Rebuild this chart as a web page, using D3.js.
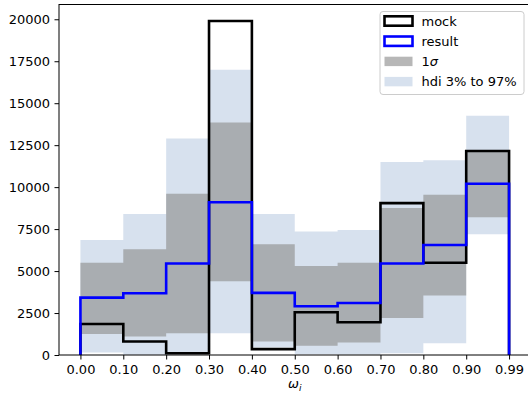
<!DOCTYPE html>
<html>
<head>
<meta charset="utf-8">
<script src="https://cdn.jsdelivr.net/npm/d3@7/dist/d3.min.js"></script>
<style>
  html, body { margin: 0; padding: 0; background: #fff; }
  svg { display: block; font-family: "DejaVu Sans", sans-serif; }
</style>
</head>
<body>
<svg id="chart" width="528" height="400"></svg>
<script>
// Bin edge labels (bins are drawn at equal width, indexed 0..10)
const edgeLabels = ["0.00", "0.10", "0.20", "0.30", "0.40", "0.50", "0.60", "0.70", "0.80", "0.90", "0.99"];

// Counts per bin
const mock   = [1850, 800, 100, 19900, 350, 2550, 1950, 9050, 5500, 12150];
const result = [3420, 3680, 5450, 9100, 3700, 2900, 3100, 5450, 6550, 10200];

// 1-sigma band
const sigmaLow  = [1250, 1100, 1300, 4400, 800, 550, 750, 2200, 3550, 8200];
const sigmaHigh = [5500, 6300, 9600, 13850, 6600, 5300, 5500, 8750, 9550, 12100];

// HDI 3%..97% band
const hdiLow  = [150, 20, 50, 1300, 450, 50, 30, 100, 700, 7200];
const hdiHigh = [6850, 8400, 12900, 17000, 8400, 7350, 7450, 11500, 11600, 14250];

const yTicks = [0, 2500, 5000, 7500, 10000, 12500, 15000, 17500, 20000];

const svg = d3.select("#chart");
const mLeft = 59, mRight = 530.5, mTop = 4.5, mBottom = 355;

const x = d3.scaleLinear().domain([-0.5, 10.5]).range([mLeft, mRight]);
const y = d3.scaleLinear().domain([0, 20880]).range([mBottom, mTop]);

const nb = mock.length;

// band areas, stepped over the bin edges
function bandData(lo, hi) {
  const d = lo.map((v, i) => ({ i: i, lo: v, hi: hi[i] }));
  d.push({ i: nb, lo: lo[nb - 1], hi: hi[nb - 1] });
  return d;
}
const area = d3.area()
  .curve(d3.curveStepAfter)
  .x(d => x(d.i))
  .y0(d => y(d.lo))
  .y1(d => y(d.hi));

const plot = svg.append("g");
plot.append("path")
  .attr("d", area(bandData(hdiLow, hdiHigh)))
  .attr("fill", "rgb(176,196,222)")
  .attr("fill-opacity", 0.5);
plot.append("path")
  .attr("d", area(bandData(sigmaLow, sigmaHigh)))
  .attr("fill", "rgb(145,145,145)")
  .attr("fill-opacity", 0.65);

// step outline of a histogram, open at the baseline
function stepPoints(vals) {
  const pts = [[0, 0]];
  vals.forEach((v, i) => { pts.push([i, v]); pts.push([i + 1, v]); });
  pts.push([nb, 0]);
  return pts;
}
const line = d3.line().x(d => x(d[0])).y(d => y(d[1]));

plot.append("path")
  .attr("d", line(stepPoints(mock)))
  .attr("fill", "none")
  .attr("stroke", "#000")
  .attr("stroke-width", 2.6)
  .attr("stroke-linejoin", "miter");
plot.append("path")
  .attr("d", line(stepPoints(result)))
  .attr("fill", "none")
  .attr("stroke", "#0000ff")
  .attr("stroke-width", 2.6)
  .attr("stroke-linejoin", "miter");

// axes
const xAxis = d3.axisBottom(x)
  .tickValues(d3.range(edgeLabels.length))
  .tickFormat(i => edgeLabels[i])
  .tickSizeInner(4.5).tickSizeOuter(0).tickPadding(5.5);
const yAxis = d3.axisLeft(y)
  .tickValues(yTicks)
  .tickFormat(d3.format("d"))
  .tickSizeInner(4.5).tickSizeOuter(0).tickPadding(4.5);

const gx = svg.append("g").attr("transform", `translate(0,${mBottom})`).call(xAxis);
const gy = svg.append("g").attr("transform", `translate(${mLeft},0)`).call(yAxis);
[gx, gy].forEach(g => {
  g.select(".domain").remove();
  g.selectAll("text").attr("font-size", 13).attr("font-family", "DejaVu Sans").attr("fill", "#000");
  g.selectAll("line").attr("stroke", "#000").attr("stroke-width", 1);
});

// frame
svg.append("rect")
  .attr("x", mLeft).attr("y", mTop)
  .attr("width", mRight - mLeft).attr("height", mBottom - mTop)
  .attr("fill", "none").attr("stroke", "#000").attr("stroke-width", 1);

// x label: omega_i
const xl = svg.append("text")
  .attr("x", (mLeft + mRight) / 2)
  .attr("y", 388)
  .attr("text-anchor", "middle")
  .attr("font-size", 13)
  .attr("font-style", "italic");
xl.append("tspan").text("ω");
xl.append("tspan").attr("font-size", 9).attr("dy", 2.5).text("i");

// legend
const lg = svg.append("g").attr("transform", "translate(380,11.5)");
lg.append("rect")
  .attr("width", 144).attr("height", 83)
  .attr("rx", 3)
  .attr("fill", "#fff").attr("fill-opacity", 0.8)
  .attr("stroke", "#cccccc").attr("stroke-width", 1);

const entries = [
  { label: "mock", fill: "none", stroke: "#000" },
  { label: "result", fill: "none", stroke: "#0000ff" },
  { label: "1σ", fill: "rgb(145,145,145)", op: 0.65 },
  { label: "hdi 3% to 97%", fill: "rgb(176,196,222)", op: 0.5 }
];
entries.forEach((e, k) => {
  const cy = 9.5 + k * 20.2;
  const r = lg.append("rect")
    .attr("x", 4.5).attr("y", cy - 4.7)
    .attr("width", 28).attr("height", 9.4);
  if (e.fill === "none") {
    r.attr("fill", "none").attr("stroke", e.stroke).attr("stroke-width", 2.6);
  } else {
    r.attr("fill", e.fill).attr("fill-opacity", e.op);
  }
  const t = lg.append("text")
    .attr("x", 41.5).attr("y", cy + 4.6)
    .attr("font-size", 13).attr("fill", "#000");
  if (e.label === "1σ") {
    t.append("tspan").text("1");
    t.append("tspan").attr("font-style", "italic").text("σ");
  } else {
    t.text(e.label);
  }
});
</script>
</body>
</html>
